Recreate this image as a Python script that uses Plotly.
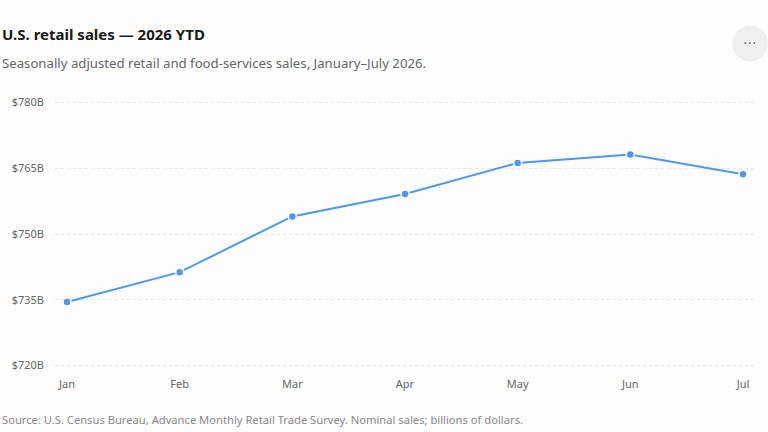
import plotly.graph_objects as go

months = ["Jan", "Feb", "Mar", "Apr", "May", "Jun", "Jul"]
sales = [734.5, 741.3, 754.0, 759.1, 766.2, 768.1, 763.6]
tick_vals = [720, 735, 750, 765, 780]
tick_text = ["$720B", "$735B", "$750B", "$765B", "$780B"]

FONT = "Noto Sans, Open Sans, sans-serif"
BG = "#fdfdfd"

fig = go.Figure()
fig.add_trace(go.Scatter(
    x=list(range(len(months))), y=sales, mode="lines+markers",
    line=dict(color="#4f97f0", width=2),
    marker=dict(size=8, color="#4f97f0", line=dict(color="white", width=1.5)),
    hoverinfo="skip", showlegend=False, cliponaxis=False,
))

# plot area spans y = 97.6 .. 370.4 px (range 719..781), 4.4 px per $B
T, B = 97.6, 61.6
H = 432 - T - B


def py(px):
    return (432 - B - px) / H


fig.update_layout(
    width=768, height=432,
    margin=dict(l=55, r=13, t=T, b=B),
    paper_bgcolor=BG, plot_bgcolor=BG,
    font=dict(family=FONT, color="#666", size=11),
    xaxis=dict(
        range=[-0.107, 6.107], tickvals=list(range(len(months))), ticktext=months,
        showgrid=False, zeroline=False, showline=False, ticks="",
        ticklabelstandoff=6, tickfont=dict(size=11, color="#666"), fixedrange=True,
    ),
    yaxis=dict(
        range=[719, 781], tickvals=tick_vals, ticktext=tick_text,
        showgrid=True, gridcolor="#e4e4e4", griddash="3px,3px", gridwidth=1,
        zeroline=False, showline=False, ticks="", ticklabelstandoff=10,
        tickfont=dict(size=11, color="#666"), fixedrange=True,
    ),
    shapes=[dict(type="circle", xref="paper", yref="paper",
                 x0=(732 - 55) / 700, x1=(768 - 55) / 700,
                 y0=py(61), y1=py(25),
                 fillcolor="#efefef", line=dict(width=0), layer="below")],
    annotations=[
        dict(text="<b>U.S. retail sales — 2026 YTD</b>", xref="paper", yref="paper",
             x=-55 / 700, y=py(33), xanchor="left", yanchor="middle",
             showarrow=False, font=dict(size=15, color="#1a1a1a", family=FONT)),
        dict(text="Seasonally adjusted retail and food-services sales, January–July 2026.",
             xref="paper", yref="paper", x=-55 / 700, y=py(62),
             xanchor="left", yanchor="middle", showarrow=False,
             font=dict(size=13.2, color="#666", family=FONT)),
        dict(text="Source: U.S. Census Bureau, Advance Monthly Retail Trade Survey. Nominal sales; billions of dollars.",
             xref="paper", yref="paper", x=-55 / 700, y=py(420),
             xanchor="left", yanchor="middle", showarrow=False,
             font=dict(size=11.2, color="#888", family=FONT)),
        dict(text="• • •", xref="paper", yref="paper", x=(750 - 55) / 700, y=py(43),
             xanchor="center", yanchor="middle", showarrow=False,
             font=dict(size=7, color="#555", family=FONT)),
    ],
)

fig.write_html("out.html", config={"displayModeBar": False},
               post_script="document.body.style.margin='0';")
